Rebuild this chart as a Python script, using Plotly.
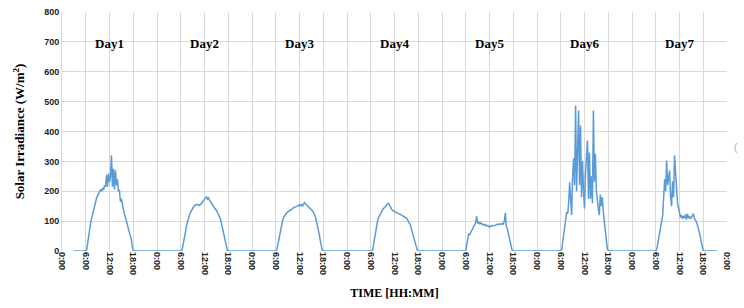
import plotly.graph_objects as go

# Quarter-hour grid from 6:00 to 18:00 (hours of the day)
grid_hours = [6 + 0.25 * i for i in range(49)]

day1 = [0, 5, 30, 55, 80, 95, 110, 125, 140, 150, 165, 178, 185, 190, 200, 205, 200, 210, 205, 220,
        215, 255, 215, 260, 230, 250, 320, 215, 275, 205, 270, 220, 240, 200, 205, 165, 175, 150, 140, 125,
        115, 105, 90, 75, 65, 55, 40, 15, 0]
day2 = [0, 0, 15, 30, 48, 68, 87, 102, 112, 122, 130, 137, 143, 148, 152, 155, 156, 155, 154, 153,
        156, 160, 165, 167, 172, 176, 182, 174, 178, 170, 165, 160, 152, 148, 145, 140, 137, 130, 123, 117,
        108, 95, 80, 62, 45, 30, 15, 3, 0]
day3 = [0, 3, 20, 40, 58, 75, 90, 103, 112, 118, 123, 127, 130, 132, 135, 138, 140, 142, 145, 146,
        147, 148, 150, 152, 155, 150, 157, 150, 155, 162, 158, 155, 152, 150, 145, 143, 140, 135, 130, 123,
        115, 102, 88, 72, 55, 35, 15, 2, 0]
day4 = [0, 0, 5, 25, 50, 70, 88, 103, 113, 120, 127, 133, 138, 142, 147, 151, 155, 158, 160, 152,
        145, 140, 136, 134, 131, 130, 128, 127, 125, 124, 122, 121, 119, 117, 115, 113, 110, 106, 101, 95,
        87, 75, 62, 48, 35, 22, 10, 3, 0]
day5 = [0, 20, 45, 58, 55, 62, 65, 72, 80, 88, 95, 117, 92, 98, 90, 95, 92, 88, 90, 86,
        88, 84, 85, 82, 80, 84, 83, 86, 84, 85, 87, 89, 90, 88, 91, 90, 89, 92, 90, 100,
        128, 82, 75, 60, 45, 25, 8, 0, 0]
day6 = [0, 5, 30, 60, 90, 110, 130, 125, 160, 230, 180, 120, 250, 310, 220, 487, 200, 330, 470, 220,
        420, 180, 300, 200, 142, 260, 315, 370, 175, 330, 175, 250, 160, 470, 232, 325, 200, 155, 140, 120,
        190, 150, 180, 130, 98, 70, 40, 10, 0]
day7 = [0, 5, 25, 45, 55, 75, 100, 120, 180, 240, 200, 303, 220, 250, 270, 180, 150, 233, 180, 320,
        260, 192, 160, 145, 123, 112, 120, 108, 117, 110, 122, 105, 125, 110, 117, 108, 112, 120, 125, 110,
        105, 98, 88, 78, 68, 50, 30, 12, 0]

days = [day1, day2, day3, day4, day5, day6, day7]
day_labels = ["Day1", "Day2", "Day3", "Day4", "Day5", "Day6", "Day7"]

start_hour = 3.0     # recording starts at 3:00 on day 1
end_hour = 21.5      # recording ends at 21:30 on day 7

tick_vals = [6 * i for i in range(29)]
tick_text = ["0:00", "6:00", "12:00", "18:00"] * 7 + ["0:00"]

x = [start_hour]
y = [0]
for d, vals in enumerate(days):
    for h, v in zip(grid_hours, vals):
        x.append(d * 24 + h)
        y.append(v)
x.append(6 * 24 + end_hour)
y.append(0)

fig = go.Figure()
fig.add_trace(go.Scatter(x=x, y=y, mode="lines",
                         line=dict(color="#5B9BD5", width=1.5), showlegend=False))

serif = "Liberation Serif"
for d, lab in enumerate(day_labels):
    fig.add_annotation(x=d * 24 + 12, y=695, text="<b>%s</b>" % lab, showarrow=False,
                       font=dict(family=serif, size=13, color="#000000"))

fig.add_annotation(x=1.0195, y=0.431, xref="paper", yref="paper", text="(", showarrow=False,
                   font=dict(family="Liberation Sans", size=10, color="#aaaaaa"))

fig.update_layout(
    width=744, height=308,
    margin=dict(l=62, r=17, t=12, b=57),
    paper_bgcolor="white", plot_bgcolor="white",
    xaxis=dict(range=[0, 168], tickmode="array", tickvals=tick_vals, ticktext=tick_text,
               tickangle=90, showgrid=True, gridcolor="#d9d9d9", gridwidth=1,
               zeroline=False, showline=False, ticks="", automargin=False,
               tickfont=dict(family="Liberation Sans", size=9, color="#222222", weight="bold"),
               title=dict(text="<b>TIME [HH:MM]</b>", standoff=14,
                          font=dict(family=serif, size=12, color="#000000"))),
    yaxis=dict(range=[0, 800], dtick=100, showgrid=True, gridcolor="#d9d9d9", gridwidth=1,
               zeroline=False, showline=True, linecolor="#d9d9d9", ticks="", automargin=False,
               tickfont=dict(family="Liberation Sans", size=9, color="#222222", weight="bold"),
               title=dict(text="<b>Solar Irradiance (W/m<sup>2</sup>)</b>", standoff=16,
                          font=dict(family=serif, size=13, color="#000000"))),
)

fig.write_html("out.html", config={"displayModeBar": False},
               post_script="document.body.style.margin='0';document.body.style.overflow='hidden';")
